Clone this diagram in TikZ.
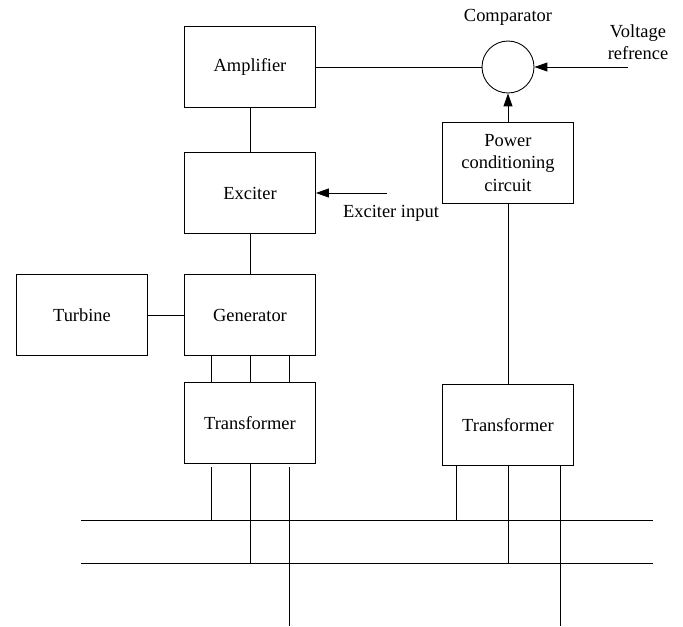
\documentclass[tikz,border=0pt]{standalone}
\usepackage{fontspec}
\setmainfont{Liberation Serif}
\usetikzlibrary{arrows.meta}

\tikzset{
  bloc/.style={draw, minimum width=2.62cm, minimum height=1.62cm, align=center, font=\fontsize{10.5}{12.6}\selectfont},
  texte/.style={align=center, font=\fontsize{10.5}{12.6}\selectfont},
  fleche/.style={-{Triangle[length=2.6mm,width=1.8mm]}}
}

\begin{document}
\begin{tikzpicture}[x=0.02cm, y=-0.02cm, line width=0.5pt]

\useasboundingbox (0,0) rectangle (683,626);

% Blocs
\node[bloc] (ampli) at (250,67) {Amplifier};
\node[bloc] (exc) at (250,193) {Exciter};
\node[bloc] (gen) at (250,315) {Generator};
\node[bloc] (turb) at (82,315) {Turbine};
\node[bloc] (trA) at (250,423) {Transformer};
\node[bloc] (pcc) at (508,163) {Power\\conditioning\\circuit};
\node[bloc] (trB) at (508,425) {Transformer};

% Comparateur
\node[draw, circle, minimum size=1.04cm, inner sep=0pt] (comp) at (508,67) {};
\node[texte] (compl) at (508,17) {Comparator};
\node[texte] (vref) at (638,42) {Voltage\\refrence};
\node[texte] (excl) at (391,213) {Exciter input};

% Entrees
\coordinate (vin) at (628,67);
\coordinate (ein) at (387,193);
\draw[fleche] (vin) -- (comp.east);
\draw[fleche] (ein) -- (exc.east);
\draw[fleche] (pcc.north) -- (comp.south);

% Liaisons
\draw (ampli.east) -- (comp.west);
\draw (ampli.south) -- (exc.north);
\draw (exc.south) -- (gen.north);
\draw (turb.east) -- (gen.west);
\draw (pcc.south) -- (trB.north);
\foreach \dx in {-0.78,0,0.78}
  \draw ([xshift=\dx cm]gen.south) -- ([xshift=\dx cm]trA.north);

% Barres
\coordinate (b1w) at (81,520);
\coordinate (b1e) at (653,520);
\coordinate (b2w) at (81,563);
\coordinate (b2e) at (653,563);
\coordinate (bas) at (0,626);
\draw (b1w) -- (b1e);
\draw (b2w) -- (b2e);

% Sorties transformateur A
\coordinate (tA1) at ([xshift=-0.78cm]trA.south);
\coordinate (tA3) at ([xshift=0.78cm]trA.south);
\draw ([yshift=-0.06cm]tA1) -- (tA1 |- b1w);
\draw (trA.south) -- (trA.south |- b2w);
\draw ([yshift=-0.06cm]tA3) -- (tA3 |- bas);

% Sorties transformateur B
\coordinate (tB1) at ([xshift=-1.04cm]trB.south);
\coordinate (tB3) at ([xshift=1.04cm]trB.south);
\draw (tB1) -- (tB1 |- b1w);
\draw (trB.south) -- (trB.south |- b2w);
\draw (tB3) -- (tB3 |- bas);

\end{tikzpicture}
\end{document}
